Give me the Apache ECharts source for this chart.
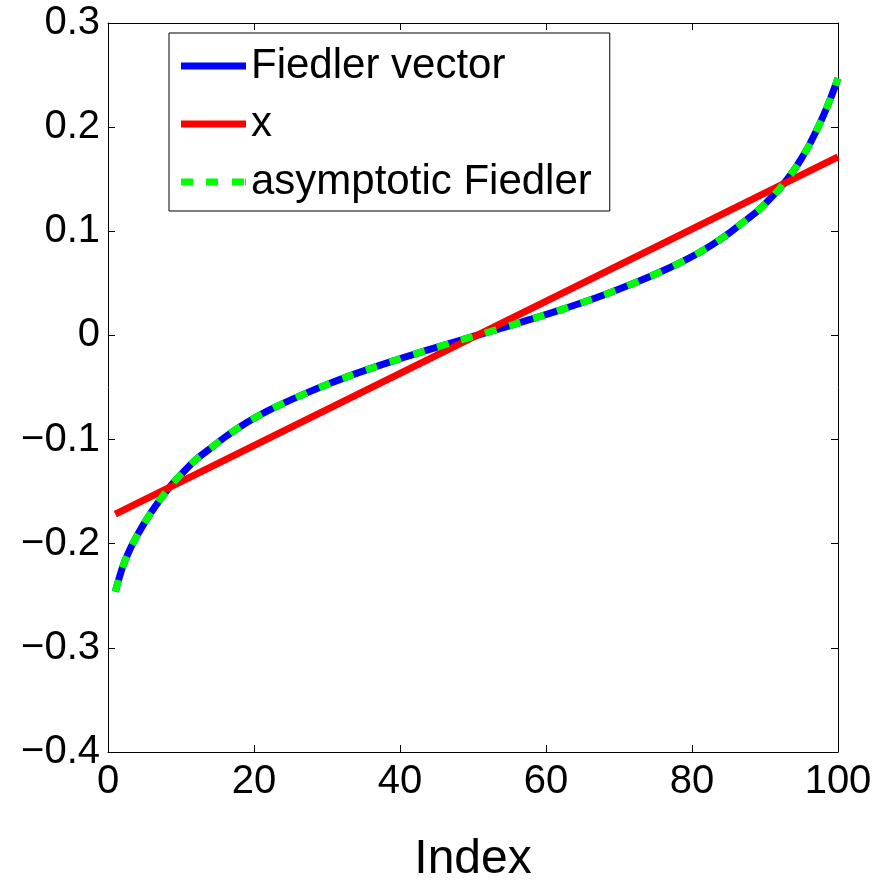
<!DOCTYPE html>
<html>
<head>
<meta charset="utf-8">
<script src="https://cdn.jsdelivr.net/npm/echarts@6/dist/echarts.min.js"></script>
<style>
html,body{margin:0;padding:0;background:#fff;}
#c{width:877px;height:883px;}
</style>
</head>
<body>
<div id="c"></div>
<script>
// Index positions where the curves were read
const fiedlerIdx = [1,2,3,4,5,6,7,8,9,10,12,14,16,18,20,22,24,27,30,33,36,39,42,45,48,50,51,53,56,59,62,65,68,71,74,77,79,81,83,85,87,89,91,92,93,94,95,96,97,98,99,100];
const fiedlerVal = [-0.246,-0.2225,-0.2055,-0.192,-0.180,-0.169,-0.159,-0.1495,-0.141,-0.1335,-0.1195,-0.1086,-0.0978,-0.0882,-0.0796,-0.0720,-0.0652,-0.0559,-0.0472,-0.0391,-0.0316,-0.0246,-0.0179,-0.0114,-0.0051,-0.001,0.001,0.0051,0.0114,0.0179,0.0246,0.0316,0.0391,0.0472,0.0559,0.0652,0.0720,0.0796,0.0882,0.0978,0.1086,0.1195,0.1335,0.141,0.1495,0.159,0.170,0.182,0.196,0.211,0.228,0.247];
const asymVal = [-0.246,-0.2225,-0.2055,-0.192,-0.180,-0.169,-0.159,-0.1495,-0.141,-0.1335,-0.1195,-0.1086,-0.0978,-0.0882,-0.0796,-0.0720,-0.0652,-0.0559,-0.0472,-0.0391,-0.0316,-0.0246,-0.0179,-0.0114,-0.0051,-0.001,0.001,0.0051,0.0114,0.0179,0.0246,0.0316,0.0391,0.0472,0.0559,0.0652,0.0720,0.0796,0.0882,0.0978,0.1086,0.1195,0.1335,0.141,0.1495,0.159,0.170,0.182,0.196,0.211,0.228,0.247];
const xIdx = [1, 100];
const xVal = [-0.1715, 0.1715];
const seriesNames = ['Fiedler vector', 'x', 'asymptotic Fiedler'];
const xTicks = [0, 20, 40, 60, 80, 100];
const yTicks = [-0.4, -0.3, -0.2, -0.1, 0, 0.1, 0.2, 0.3];

const pair = (xs, ys) => xs.map((v, i) => [v, ys[i]]);
const FONT = "'Liberation Sans', Arial, Helvetica, sans-serif";
const fmtY = v => {
  const r = Math.round(v * 10) / 10;
  if (Math.abs(r) < 1e-9) return '0';
  return (r < 0 ? '\u2212' : '') + Math.abs(r).toFixed(1);
};

const SOLID_ICON = 'path://M0,0h65v7h-65z';
const DASH_ICON = 'path://M0,0h12v7h-12z M25,0h12v7h-12z M51,0h12v7h-12z M64,0h1v7h-1z';

const chart = echarts.init(document.getElementById('c'), null, {renderer: 'canvas'});
const axisCommon = {
  axisLine: {show: true, onZero: false, lineStyle: {color: '#000', width: 1}},
  axisTick: {show: true, inside: true, length: 7, lineStyle: {color: '#000', width: 1}},
  splitLine: {show: false}
};
chart.setOption({
  animation: false,
  backgroundColor: '#fff',
  textStyle: {fontFamily: FONT},
  grid: {left: 108, right: 39, top: 23, bottom: 131, containLabel: false, outerBoundsMode: 'none'},
  xAxis: [
    Object.assign({
      type: 'value', min: xTicks[0], max: xTicks[xTicks.length - 1], interval: 20, position: 'bottom',
      name: 'Index', nameLocation: 'middle', nameGap: 84,
      nameTextStyle: {fontSize: 48, color: '#000', fontFamily: FONT},
      axisLabel: {fontSize: 40, color: '#000', margin: 10, fontFamily: FONT}
    }, axisCommon),
    Object.assign({
      type: 'value', min: xTicks[0], max: xTicks[xTicks.length - 1], interval: 20, position: 'top',
      axisLabel: {show: false}
    }, axisCommon)
  ],
  yAxis: [
    Object.assign({
      type: 'value', min: yTicks[0], max: yTicks[yTicks.length - 1], interval: 0.1, position: 'left',
      axisLabel: {fontSize: 40, color: '#000', margin: 8, formatter: fmtY, fontFamily: FONT}
    }, axisCommon),
    Object.assign({
      type: 'value', min: yTicks[0], max: yTicks[yTicks.length - 1], interval: 0.1, position: 'right',
      axisLabel: {show: false}
    }, axisCommon)
  ],
  legend: {
    show: true,
    orient: 'vertical',
    left: 169, top: 33,
    padding: [12, 18, 8, 12],
    itemGap: 16,
    itemWidth: 65, itemHeight: 7,
    backgroundColor: '#fff',
    borderColor: '#000', borderWidth: 1,
    textStyle: {fontSize: 42, color: '#000', fontFamily: FONT},
    data: [
      {name: seriesNames[0], icon: SOLID_ICON, itemStyle: {color: '#0000ff'}},
      {name: seriesNames[1], icon: SOLID_ICON, itemStyle: {color: '#ff0000'}},
      {name: seriesNames[2], icon: DASH_ICON, itemStyle: {color: '#00ff00'}}
    ]
  },
  series: [
    {
      name: seriesNames[0], type: 'line', data: pair(fiedlerIdx, fiedlerVal),
      smooth: 0.3, symbol: 'none', showSymbol: false,
      lineStyle: {color: '#0000ff', width: 7}, itemStyle: {color: '#0000ff'}, z: 2
    },
    {
      name: seriesNames[1], type: 'line', data: pair(xIdx, xVal),
      symbol: 'none', showSymbol: false,
      lineStyle: {color: '#ff0000', width: 7}, itemStyle: {color: '#ff0000'}, z: 3
    },
    {
      name: seriesNames[2], type: 'line', data: pair(fiedlerIdx, asymVal),
      smooth: 0.3, symbol: 'none', showSymbol: false,
      lineStyle: {color: '#00ff00', width: 7, type: [12, 13], cap: 'butt'}, itemStyle: {color: '#00ff00'}, z: 4
    }
  ]
});
</script>
</body>
</html>
